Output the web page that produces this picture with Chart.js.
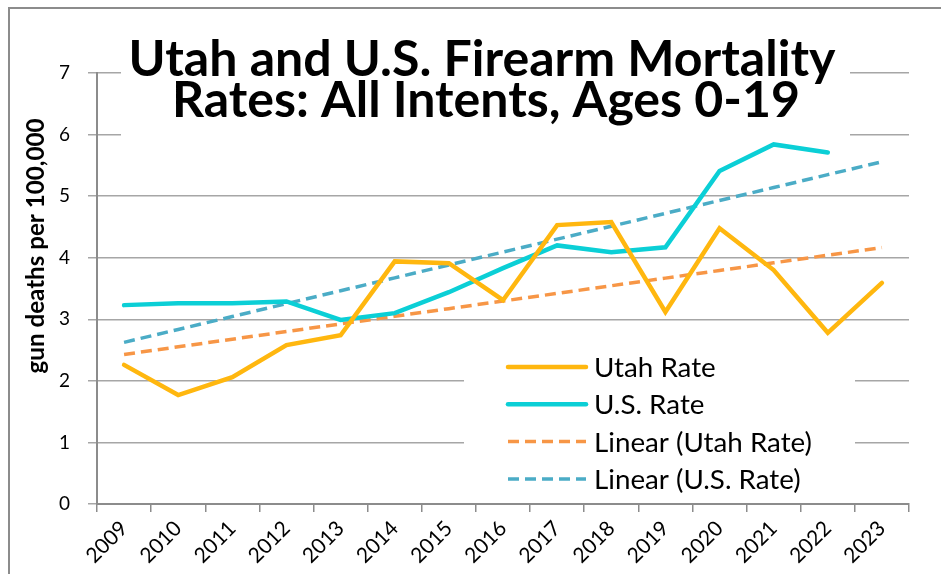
<!DOCTYPE html>
<html>
<head>
<meta charset="utf-8">
<script src="https://cdn.jsdelivr.net/npm/chart.js@4.4.1/dist/chart.umd.min.js"></script>
<style>
  html, body { margin: 0; padding: 0; background: #ffffff; }
  #wrap { width: 941px; height: 574px; }
</style>
</head>
<body>
<div id="wrap"><canvas id="firearmChart" width="941" height="574"></canvas></div>
<script>
// Values
const years = ['2009', '2010', '2011', '2012', '2013', '2014', '2015', '2016',
               '2017', '2018', '2019', '2020', '2021', '2022', '2023'];
const utahRate = [2.26, 1.77, 2.06, 2.58, 2.74, 3.94, 3.91, 3.31, 4.53, 4.58, 3.12, 4.48, 3.80, 2.78, 3.59];
const usRate = [3.23, 3.26, 3.26, 3.29, 2.99, 3.10, 3.44, 3.83, 4.20, 4.09, 4.17, 5.41, 5.84, 5.71, null];
const yTicks = [0, 1, 2, 3, 4, 5, 6, 7];

const titleLines = ['Utah and U.S. Firearm Mortality', 'Rates: All Intents, Ages 0-19'];
const yAxisTitle = 'gun deaths per 100,000';
const FONT = 'Lato';

// Least-squares line over the points that exist, drawn across every category (like Excel's trendline)
function linearTrend(values) {
    const pts = values.map((v, i) => [i, v]).filter(p => p[1] !== null);
    const n = pts.length;
    const mx = pts.reduce((s, p) => s + p[0], 0) / n;
    const my = pts.reduce((s, p) => s + p[1], 0) / n;
    let sxy = 0, sxx = 0;
    pts.forEach(p => {
        sxy += (p[0] - mx) * (p[1] - my);
        sxx += (p[0] - mx) * (p[0] - mx);
    });
    const slope = sxy / sxx;
    return values.map((v, i) => my + slope * (i - mx));
}

// pick a font size so the text is as wide as in the reference
function fitFont(ctx, text, weight, targetWidth) {
    ctx.font = weight + ' 40px ' + FONT;
    const w = ctx.measureText(text).width;
    return 40 * targetWidth / w;
}

const overlayPlugin = {
    id: 'overlay',
    beforeDatasetsDraw(chart) {
        const ctx = chart.ctx;
        ctx.save();

        // title sits on top of the plot with a white box, as in Excel
        ctx.fillStyle = '#ffffff';
        ctx.fillRect(121, 30, 729, 110);
        const titleSize = fitFont(ctx, titleLines[0], 'bold', 707);
        ctx.font = 'bold ' + titleSize + 'px ' + FONT;
        ctx.fillStyle = '#000000';
        ctx.textAlign = 'center';
        ctx.textBaseline = 'alphabetic';
        ctx.fillText(titleLines[0], 482, 76);
        ctx.fillText(titleLines[1], 486, 117);

        // legend box inside the plot
        ctx.fillStyle = '#ffffff';
        ctx.fillRect(464, 340, 391, 160);
        const legendSize = fitFont(ctx, 'Linear (Utah Rate)', 'normal', 218);
        ctx.font = legendSize + 'px ' + FONT;
        ctx.textAlign = 'left';
        ctx.textBaseline = 'middle';
        chart.data.datasets.forEach((ds, i) => {
            const y = 367 + i * 37.3;
            ctx.beginPath();
            ctx.strokeStyle = ds.borderColor;
            ctx.lineWidth = ds.borderWidth;
            ctx.setLineDash(ds.borderDash || []);
            ctx.lineCap = ds.borderDash ? 'butt' : 'round';
            ctx.moveTo(508, y);
            ctx.lineTo(586, y);
            ctx.stroke();
            ctx.setLineDash([]);
            ctx.fillStyle = '#000000';
            ctx.fillText(ds.label, 594, y + 1);
        });

        // rotated y axis title
        const axisSize = fitFont(ctx, yAxisTitle, 'bold', 255);
        ctx.translate(36, 246);
        ctx.rotate(-Math.PI / 2);
        ctx.font = 'bold ' + axisSize + 'px ' + FONT;
        ctx.textAlign = 'center';
        ctx.textBaseline = 'middle';
        ctx.fillText(yAxisTitle, 0, 0);
        ctx.restore();
    },
    afterDraw(chart) {
        // outer chart frame, cut off at the right and bottom edges
        const ctx = chart.ctx;
        ctx.save();
        ctx.strokeStyle = '#8c8c8c';
        ctx.lineWidth = 2;
        ctx.strokeRect(9, 8, 960, 600);
        ctx.restore();
    }
};

const ctx = document.getElementById('firearmChart').getContext('2d');
new Chart(ctx, {
    type: 'line',
    data: {
        labels: years,
        datasets: [{
            label: 'Utah Rate',
            data: utahRate,
            borderColor: '#ffb70f',
            borderWidth: 4.5,
            pointRadius: 0,
            tension: 0,
            borderCapStyle: 'round',
            borderJoinStyle: 'miter'
        }, {
            label: 'U.S. Rate',
            data: usRate,
            borderColor: '#0bcfd6',
            borderWidth: 4.5,
            pointRadius: 0,
            tension: 0,
            borderCapStyle: 'round',
            borderJoinStyle: 'miter'
        }, {
            label: 'Linear (Utah Rate)',
            data: linearTrend(utahRate),
            borderColor: '#f79646',
            borderWidth: 3.5,
            borderDash: [11, 6],
            pointRadius: 0
        }, {
            label: 'Linear (U.S. Rate)',
            data: linearTrend(usRate),
            borderColor: '#4bacc6',
            borderWidth: 3.5,
            borderDash: [11, 6],
            pointRadius: 0
        }]
    },
    options: {
        responsive: false,
        animation: false,
        layout: {
            padding: { left: 0, top: 73, right: 32, bottom: 0 }
        },
        plugins: {
            legend: { display: false },
            title: { display: false },
            tooltip: { enabled: false }
        },
        scales: {
            x: {
                offset: true,
                grid: {
                    offset: true,
                    drawOnChartArea: false,
                    drawTicks: true,
                    tickLength: 8,
                    color: '#8c8c8c',
                    lineWidth: 1.5
                },
                border: { color: '#8c8c8c', width: 2 },
                ticks: {
                    autoSkip: false,
                    maxRotation: 45,
                    minRotation: 45,
                    padding: 4,
                    color: '#000000',
                    font: { family: FONT, size: 21 }
                },
                afterFit: scale => { scale.height = 70; }
            },
            y: {
                min: yTicks[0],
                max: yTicks[yTicks.length - 1],
                ticks: {
                    stepSize: 1,
                    padding: 18,
                    color: '#000000',
                    font: { family: FONT, size: 19 }
                },
                grid: {
                    color: '#a6a6a6',
                    lineWidth: 1.5,
                    tickLength: 9
                },
                border: { color: '#8c8c8c', width: 2 },
                afterFit: scale => { scale.height = scale.height; scale.width = 97; }
            }
        }
    },
    plugins: [overlayPlugin]
});
</script>
</body>
</html>
